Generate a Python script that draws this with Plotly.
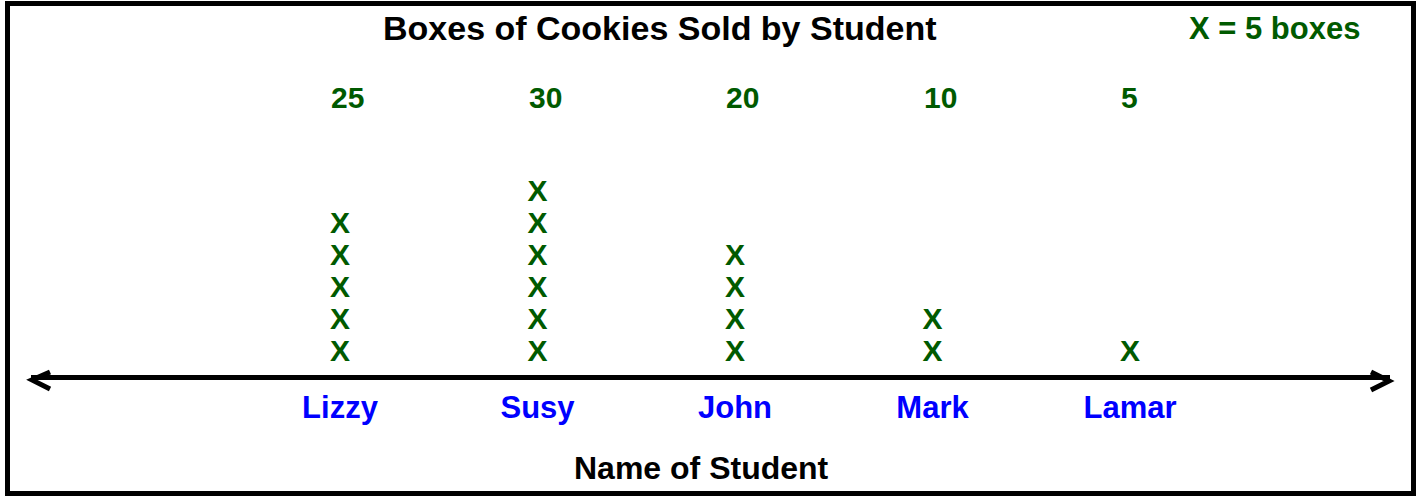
import plotly.graph_objects as go

# ---- data ----
students = ["Lizzy", "Susy", "John", "Mark", "Lamar"]
boxes_sold = [25, 30, 20, 10, 5]
boxes_per_x = 5

title_text = "Boxes of Cookies Sold by Student"
key_text = "X = 5 boxes"
axis_title_text = "Name of Student"

# ---- layout helpers (pixel -> paper) ----
W, H = 1419, 497


def px(x):
    return x / W


def py(y):
    return (H - y) / H


GREEN = "#005a00"
BLUE = "#0000ff"
FONT = "Liberation Sans, Arial, Helvetica, sans-serif"

# Build X stacks from the data
xs, ys = [], []
for name, v in zip(students, boxes_sold):
    for k in range(1, v // boxes_per_x + 1):
        xs.append(name)
        ys.append(k)

fig = go.Figure()
fig.add_trace(
    go.Scatter(
        x=xs,
        y=ys,
        mode="text",
        text=["X"] * len(xs),
        textposition="middle center",
        textfont=dict(family=FONT, size=30, color=GREEN, weight="bold"),
        hoverinfo="skip",
        showlegend=False,
    )
)

# category centres: Lizzy at px 340, spacing 197.5 px
x_left, x_right = 31, 1390
c0, step = 340, 197.5
xr = [(x_left - c0) / step, (x_right - c0) / step]
# y rows: k=1 at px 353, 32 px per X
y0, ystep = 353, 32
yr = [1 + (y0 - H) / ystep, 1 + y0 / ystep]

annotations = []
# value labels above each stack
for name, v in zip(students, boxes_sold):
    annotations.append(
        dict(
            x=name, xref="x", y=py(98), yref="paper",
            text=str(v), showarrow=False, xanchor="left", xshift=-11,
            yanchor="middle",
            font=dict(family=FONT, size=30, color=GREEN, weight="bold"),
        )
    )
annotations += [
    dict(x=px(660), y=py(28), xref="paper", yref="paper", text=title_text,
         showarrow=False, xanchor="center", yanchor="middle",
         font=dict(family=FONT, size=34, color="black", weight="bold")),
    dict(x=px(1274.5), y=py(28), xref="paper", yref="paper", text=key_text,
         showarrow=False, xanchor="center", yanchor="middle",
         font=dict(family=FONT, size=31, color=GREEN, weight="bold")),
    dict(x=px(701), y=py(468), xref="paper", yref="paper", text=axis_title_text,
         showarrow=False, xanchor="center", yanchor="middle",
         font=dict(family=FONT, size=32, color="black", weight="bold")),
]


def path(points):
    return "M " + " L ".join(f"{px(a):.5f},{py(b):.5f}" for a, b in points)


shapes = [
    dict(type="rect", xref="paper", yref="paper",
         x0=px(7.5), x1=px(1413.5), y0=py(493.5), y1=py(3.5),
         line=dict(color="black", width=5)),
    dict(type="path", xref="paper", yref="paper",
         path=path([(50, 372), (32, 380), (50, 389)]),
         line=dict(color="black", width=5)),
    dict(type="path", xref="paper", yref="paper",
         path=path([(1371, 372), (1389, 381), (1371, 390)]),
         line=dict(color="black", width=5)),
]

fig.update_layout(
    width=W,
    height=H,
    margin=dict(l=0, r=0, t=0, b=0),
    paper_bgcolor="white",
    plot_bgcolor="white",
    showlegend=False,
    annotations=annotations,
    shapes=shapes,
    xaxis=dict(
        type="category",
        categoryorder="array",
        categoryarray=students,
        domain=[px(x_left), px(x_right)],
        range=xr,
        anchor="free",
        position=py(377),
        showline=True,
        linewidth=5,
        linecolor="black",
        showgrid=False,
        zeroline=False,
        ticks="",
        ticklabelstandoff=1,
        tickfont=dict(family=FONT, size=31, color=BLUE, weight="bold"),
        fixedrange=True,
    ),
    yaxis=dict(
        domain=[0, 1],
        range=yr,
        visible=False,
        fixedrange=True,
    ),
)

fig.write_html(
    "out.html",
    config={"displayModeBar": False, "staticPlot": True},
    post_script="document.body.style.margin='0';document.body.style.overflow='hidden';",
)
